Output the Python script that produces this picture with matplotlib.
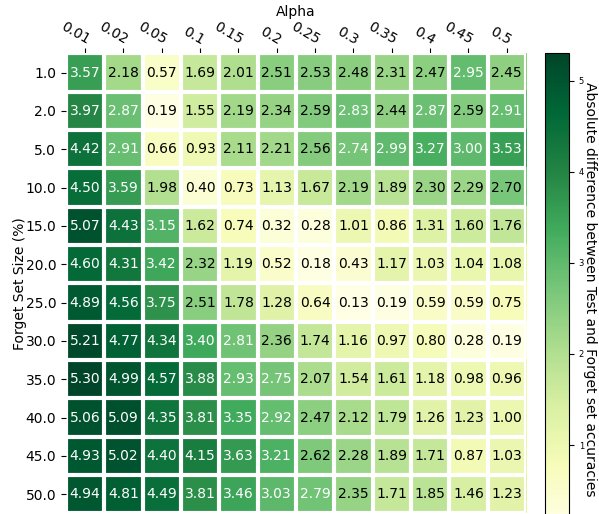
import numpy as np
import matplotlib
matplotlib.use('Agg')
import matplotlib.pyplot as plt

alphas = ['0.01', '0.02', '0.05', '0.1', '0.15', '0.2', '0.25', '0.3', '0.35', '0.4', '0.45', '0.5']
forget_sizes = ['1.0', '2.0', '5.0', '10.0', '15.0', '20.0', '25.0', '30.0', '35.0', '40.0', '45.0', '50.0']

r1 = [3.57, 2.18, 0.57, 1.69, 2.01, 2.51, 2.53, 2.48, 2.31, 2.47, 2.95, 2.45]
r2 = [3.97, 2.87, 0.19, 1.55, 2.19, 2.34, 2.59, 2.83, 2.44, 2.87, 2.59, 2.91]
r5 = [4.42, 2.91, 0.66, 0.93, 2.11, 2.21, 2.56, 2.74, 2.99, 3.27, 3.00, 3.53]
r10 = [4.50, 3.59, 1.98, 0.40, 0.73, 1.13, 1.67, 2.19, 1.89, 2.30, 2.29, 2.70]
r15 = [5.07, 4.43, 3.15, 1.62, 0.74, 0.32, 0.28, 1.01, 0.86, 1.31, 1.60, 1.76]
r20 = [4.60, 4.31, 3.42, 2.32, 1.19, 0.52, 0.18, 0.43, 1.17, 1.03, 1.04, 1.08]
r25 = [4.89, 4.56, 3.75, 2.51, 1.78, 1.28, 0.64, 0.13, 0.19, 0.59, 0.59, 0.75]
r30 = [5.21, 4.77, 4.34, 3.40, 2.81, 2.36, 1.74, 1.16, 0.97, 0.80, 0.28, 0.19]
r35 = [5.30, 4.99, 4.57, 3.88, 2.93, 2.75, 2.07, 1.54, 1.61, 1.18, 0.98, 0.96]
r40 = [5.06, 5.09, 4.35, 3.81, 3.35, 2.92, 2.47, 2.12, 1.79, 1.26, 1.23, 1.00]
r45 = [4.93, 5.02, 4.40, 4.15, 3.63, 3.21, 2.62, 2.28, 1.89, 1.71, 0.87, 1.03]
r50 = [4.94, 4.81, 4.49, 3.81, 3.46, 3.03, 2.79, 2.35, 1.71, 1.85, 1.46, 1.23]

data = np.array([r1, r2, r5, r10, r15, r20, r25, r30, r35, r40, r45, r50])

fig = plt.figure(figsize=(5.99, 5.14), dpi=100)
ax = fig.add_axes([0.110, 0.001, 0.768, 0.895])
cax = fig.add_axes([0.910, -0.02, 0.040, 0.916])

im = ax.imshow(data, cmap='YlGn')
cbar = fig.colorbar(im, cax=cax)
cbar.ax.tick_params(labelsize=6)
cbar.ax.set_ylabel('Absolute difference between Test and Forget set accuracies',
                   rotation=-90, va='bottom', fontsize=10, labelpad=-1)

ax.set_xticks(np.arange(data.shape[1]), labels=alphas)
ax.set_yticks(np.arange(data.shape[0]), labels=forget_sizes)
ax.tick_params(top=True, bottom=False, labeltop=True, labelbottom=False)
ax.tick_params(axis='x', pad=1)
plt.setp(ax.get_xticklabels(), rotation=-30, ha='right', rotation_mode='anchor')
ax.xaxis.set_label_position('top')
ax.set_xlabel('Alpha', labelpad=3)
ax.set_ylabel('Forget Set Size (%)', labelpad=-1)

ax.spines[:].set_visible(False)
ax.set_xticks(np.arange(data.shape[1] + 1) - .5, minor=True)
ax.set_yticks(np.arange(data.shape[0] + 1) - .5, minor=True)
ax.grid(which='minor', color='w', linestyle='-', linewidth=3)
ax.tick_params(which='minor', bottom=False, left=False, top=False)

# text colour switches at half of the colour range
threshold = im.norm(data.max()) / 2.
for i in range(data.shape[0]):
    for j in range(data.shape[1]):
        c = 'white' if im.norm(data[i, j]) > threshold else 'black'
        ax.text(j, i, '%.2f' % data[i, j], ha='center', va='center', color=c, fontsize=10)

fig.savefig('out.png')
